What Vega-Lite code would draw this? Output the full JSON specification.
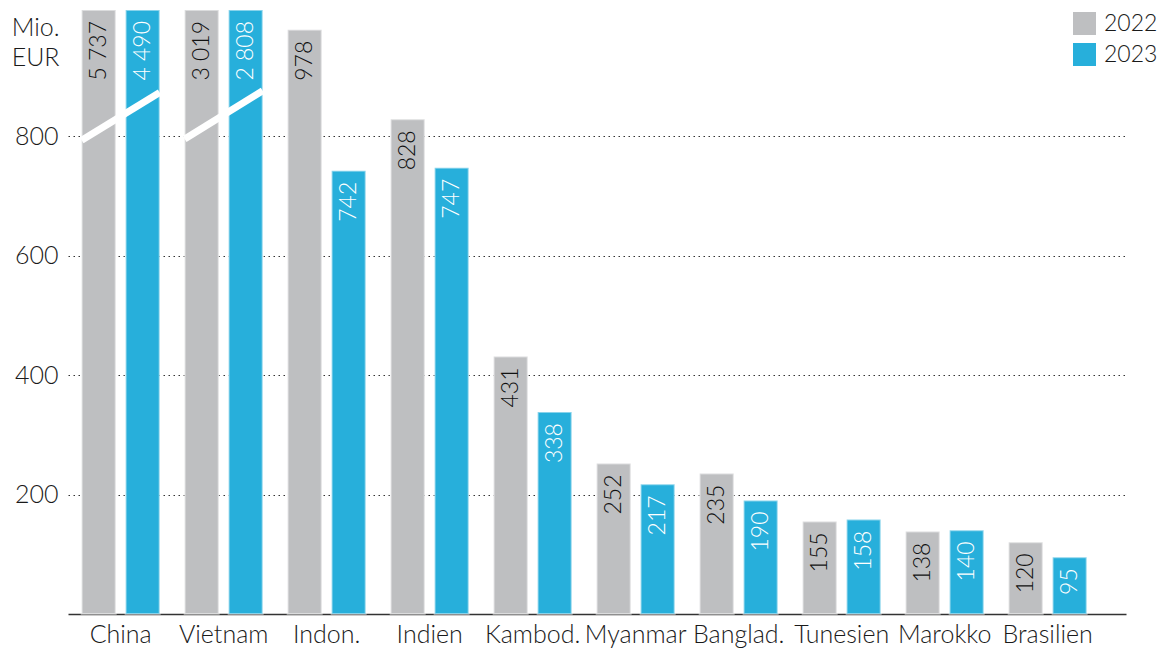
{
  "$schema": "https://vega.github.io/schema/vega-lite/v6.json",
  "width": 1058,
  "height": 604,
  "autosize": {"type": "none"},
  "padding": {"left": 68, "top": 10, "right": 38, "bottom": 38},
  "config": {
    "view": {"stroke": null},
    "font": "Lato",
    "locale": {"number": {"decimal": ",", "thousands": " ", "grouping": [3], "currency": ["", " €"]}}
  },
  "datasets": {
    "bars": [
      {"country": "China", "year": "2022", "value": 5737},
      {"country": "China", "year": "2023", "value": 4490},
      {"country": "Vietnam", "year": "2022", "value": 3019},
      {"country": "Vietnam", "year": "2023", "value": 2808},
      {"country": "Indon.", "year": "2022", "value": 978},
      {"country": "Indon.", "year": "2023", "value": 742},
      {"country": "Indien", "year": "2022", "value": 828},
      {"country": "Indien", "year": "2023", "value": 747},
      {"country": "Kambod.", "year": "2022", "value": 431},
      {"country": "Kambod.", "year": "2023", "value": 338},
      {"country": "Myanmar", "year": "2022", "value": 252},
      {"country": "Myanmar", "year": "2023", "value": 217},
      {"country": "Banglad.", "year": "2022", "value": 235},
      {"country": "Banglad.", "year": "2023", "value": 190},
      {"country": "Tunesien", "year": "2022", "value": 155},
      {"country": "Tunesien", "year": "2023", "value": 158},
      {"country": "Marokko", "year": "2022", "value": 138},
      {"country": "Marokko", "year": "2023", "value": 140},
      {"country": "Brasilien", "year": "2022", "value": 120},
      {"country": "Brasilien", "year": "2023", "value": 95}
    ],
    "breaks": [
      {"country": "China", "lo": 793, "hi": 873},
      {"country": "Vietnam", "lo": 795, "hi": 876}
    ]
  },
  "layer": [
    {
      "data": {"name": "bars"},
      "mark": {"type": "bar", "stroke": "white", "strokeOpacity": 0.45, "strokeWidth": 2},
      "encoding": {
        "x": {
          "field": "country", "type": "nominal",
          "scale": {
            "domain": ["China", "Vietnam", "Indon.", "Indien", "Kambod.", "Myanmar", "Banglad.", "Tunesien", "Marokko", "Brasilien"],
            "paddingInner": 0.243, "paddingOuter": 0.2575, "align": 0.258
          },
          "axis": {
            "title": null, "labelAngle": 0, "ticks": false, "domain": true,
            "domainColor": "#333", "domainWidth": 1.5,
            "labelFont": "Lato", "labelFontWeight": 300, "labelFontSize": 25,
            "labelColor": "#1a1a1a", "labelPadding": 8, "labelOverlap": false, "labelBaseline": "top"
          }
        },
        "xOffset": {
          "field": "year", "type": "nominal",
          "scale": {"domain": ["2022", "2023"], "paddingInner": 0.227, "paddingOuter": 0}
        },
        "y": {
          "field": "value", "type": "quantitative",
          "scale": {"domain": [0, 1011], "clamp": true, "nice": false, "zero": true},
          "axis": {
            "values": [200, 400, 600, 800], "format": "d",
            "domain": false, "ticks": false, "grid": true,
            "gridDash": [1.5, 3.5], "gridColor": "#333", "gridWidth": 1,
            "labelFont": "Lato", "labelFontWeight": 300, "labelFontSize": 25,
            "labelColor": "#1a1a1a", "labelPadding": 10,
            "title": ["Mio.", "EUR"], "titleAngle": 0, "titleAlign": "right",
            "titleBaseline": "alphabetic", "titleX": -9, "titleY": 25,
            "titleFont": "Lato", "titleFontWeight": 300, "titleFontSize": 25,
            "titleLineHeight": 30, "titleColor": "#1a1a1a"
          }
        },
        "color": {
          "field": "year", "type": "nominal",
          "scale": {"domain": ["2022", "2023"], "range": ["#bebfc1", "#27afdb"]},
          "legend": {
            "title": null, "orient": "none", "legendX": 1005, "legendY": 2,
            "padding": 0, "symbolType": "square", "symbolSize": 529,
            "symbolStrokeWidth": 0, "symbolOpacity": 1,
            "labelFont": "Lato", "labelFontWeight": 300, "labelFontSize": 23,
            "labelColor": "#1a1a1a", "labelOffset": 8, "rowPadding": 7
          }
        }
      }
    },
    {
      "data": {"name": "bars"},
      "mark": {"type": "text", "angle": 270, "align": "right", "baseline": "middle", "dx": -11, "fontSize": 23, "font": "Lato", "fontWeight": 300},
      "encoding": {
        "x": {"field": "country", "type": "nominal"},
        "xOffset": {"field": "year", "type": "nominal"},
        "y": {"field": "value", "type": "quantitative"},
        "text": {"field": "value", "type": "quantitative", "format": ",d"},
        "color": {"condition": {"test": "datum.year == '2023'", "value": "white"}, "value": "#111111"}
      }
    },
    {
      "data": {"name": "breaks"},
      "mark": {"type": "rule", "color": "white", "strokeWidth": 7},
      "encoding": {
        "x": {"field": "country", "type": "nominal", "bandPosition": 0},
        "x2": {"field": "country", "bandPosition": 1},
        "y": {"field": "lo", "type": "quantitative"},
        "y2": {"field": "hi"}
      }
    }
  ]
}
